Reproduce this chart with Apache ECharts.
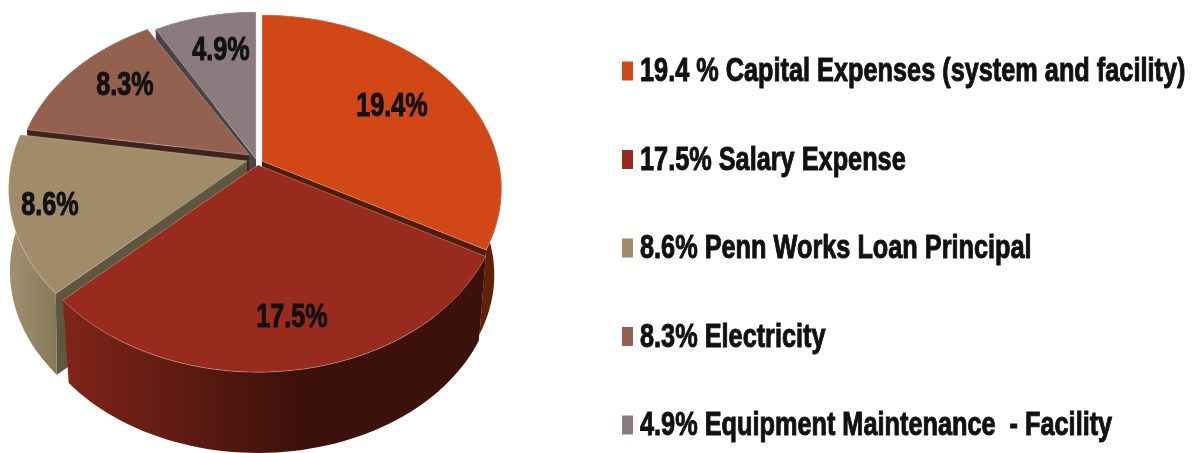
<!DOCTYPE html>
<html>
<head>
<meta charset="utf-8">
<style>html,body{margin:0;padding:0;background:#fff}#chart{width:1200px;height:453px}</style>
<script src="https://cdn.jsdelivr.net/npm/echarts@6/dist/echarts.min.js"></script>
</head>
<body>
<div id="chart"></div>
<script>
const categories = [
  '19.4 % Capital Expenses (system and facility)',
  '17.5% Salary Expense',
  '8.6% Penn Works Loan Principal',
  '8.3% Electricity',
  '4.9% Equipment Maintenance  - Facility'
];
const values = [19.4, 17.5, 8.6, 8.3, 4.9];
const topColors = ['#d14716', '#992a1e', '#a08c68', '#946150', '#8b7b7e'];
const cutColors = ['#531a05', '#531a05', '#5f5640', '#40231d', '#4a4446'];
const wallColors = [['#5e2206', '#5e2206'], ['#7f2418', '#3c110b'], ['#a09070', '#857858'], ['#40231d', '#40231d'], ['#4a4446', '#4a4446']];

// how each slice is pulled out of the pie, its own squash, and where its label sits
const explode = [[4, -4], [0, 0], [-11, -4], [-9, -10], [-2, -6]];
const squash = [[0.985, 0.973], [1, 1], [0.98, 0.98], [0.96, 0.95], [0.95, 0.98]];
const shrinks = [0.03, 0.03, 0.005, 0.03, 0.03];
const depths = [87, 87, 82, 87, 87];
const labelPos = [[392, 106.5], [292, 317.5], [50, 205.5], [125, 86], [221, 51]];
const drawOrder = [4, 3, 0, 2, 1];

const total = values.reduce((a, b) => a + b, 0);
const cx = 258, cy = 165, rx = 240, ry = 174, persp = 0.16;
const fontFamily = '"Liberation Sans", Arial, sans-serif';

function project(theta, r, idx, level) {
  const off = explode[idx], sq = squash[idx];
  const x = r * Math.sin(theta), y = -r * Math.cos(theta);
  const d = 1 - persp * y, s = 1 - shrinks[idx] * level;
  return [cx + off[0] + rx * sq[0] * x / d * s, cy + off[1] + depths[idx] * level + ry * sq[1] * y / d * s];
}

function arc(a0, a1, idx, level) {
  const pts = [], n = 60;
  for (let i = 0; i <= n; i++) pts.push(project(a0 + (a1 - a0) * i / n, 1, idx, level));
  return pts;
}

function cutFace(a, idx) {
  return {
    type: 'polygon',
    shape: { points: [project(a, 0, idx, 0), project(a, 1, idx, 0), project(a, 1, idx, 1), project(a, 0, idx, 1)] },
    style: { fill: cutColors[idx] }
  };
}

function sliceRenderer(idx) {
  let before = 0;
  for (let i = 0; i < idx; i++) before += values[i];
  return function (params, api) {
    const a0 = before / total * Math.PI * 2;
    const a1 = (before + api.value(0)) / total * Math.PI * 2;
    const children = [];
    if (Math.sin(a0) < -0.01) children.push(cutFace(a0, idx));
    if (Math.sin(a1) > 0.01) children.push(cutFace(a1, idx));
    children.push({
      type: 'polygon',
      shape: { points: arc(a0, a1, idx, 0).concat(arc(a0, a1, idx, 1).reverse()) },
      style: {
        fill: {
          type: 'linear', global: true, x: idx === 1 ? 68 : 10, y: 0, x2: idx === 1 ? 300 : 60, y2: 0,
          colorStops: [{ offset: 0, color: wallColors[idx][0] }, { offset: 1, color: wallColors[idx][1] }]
        }
      }
    });
    children.push({
      type: 'polygon',
      shape: { points: [project(a0, 0, idx, 0)].concat(arc(a0, a1, idx, 0)) },
      style: { fill: topColors[idx], stroke: 'rgba(225,205,195,0.55)', lineWidth: 0.7 }
    });
    children.push({
      type: 'text',
      style: {
        x: 0, y: 0,
        text: api.value(0).toFixed(1) + '%',
        font: 'bold 30px ' + fontFamily,
        fill: '#111',
        stroke: '#111',
        lineWidth: 0.9,
        align: 'center',
        verticalAlign: 'middle'
      },
      x: labelPos[idx][0],
      y: labelPos[idx][1],
      scaleX: 0.84,
      scaleY: 1.12
    });
    return { type: 'group', children: children };
  };
}

// the narrow bold legend text needs scaleX, which legend.textStyle can't do
const legendItems = [];
categories.forEach((name, i) => {
  const y = 71 + i * 88.5;
  legendItems.push({
    type: 'rect',
    shape: { x: 622, y: y - 9.5, width: 11, height: 19 },
    style: { fill: topColors[i] }
  });
  legendItems.push({
    type: 'text',
    x: 640,
    y: y + 1,
    scaleX: 0.843,
    scaleY: 1.1,
    style: {
      text: name,
      font: 'bold 30px ' + fontFamily,
      fill: '#111',
      stroke: '#111',
      lineWidth: 0.9,
      verticalAlign: 'middle'
    }
  });
});

const chart = echarts.init(document.getElementById('chart'), null, { renderer: 'canvas' });
chart.setOption({
  animation: false,
  graphic: { elements: legendItems },
  series: drawOrder.map((idx, order) => ({
    type: 'custom',
    name: categories[idx],
    coordinateSystem: 'none',
    z: order + 2,
    silent: true,
    itemStyle: { color: topColors[idx] },
    data: [[values[idx]]],
    renderItem: sliceRenderer(idx)
  }))
});
</script>
</body>
</html>
